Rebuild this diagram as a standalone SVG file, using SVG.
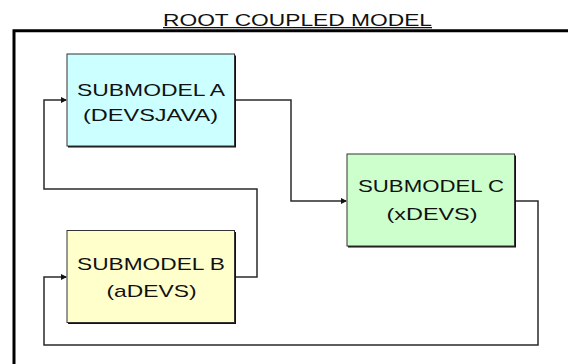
<svg xmlns="http://www.w3.org/2000/svg" width="568" height="364" viewBox="0 0 568 364">
  <style>
    .lbl { font-family: "Liberation Sans", Arial, sans-serif; font-size: 17px; fill: #111; }
    .box { stroke: #333; stroke-width: 1; }
    .shadow { fill: #111; }
    .conn { fill: none; stroke: #2a2a2a; stroke-width: 1.5; }
  </style>
  <defs>
    <marker id="arrow" markerWidth="6" markerHeight="6" refX="5" refY="3" orient="auto" markerUnits="userSpaceOnUse">
      <path d="M0,0 L6,3 L0,6 Z" fill="#111"/>
    </marker>
  </defs>
  <rect width="568" height="364" fill="#fff"/>

  <g id="root">
    <text class="lbl" x="163" y="25.5" textLength="269" lengthAdjust="spacingAndGlyphs">ROOT COUPLED MODEL</text>
    <line x1="163" y1="27.6" x2="432" y2="27.6" stroke="#111" stroke-width="1.2"/>
    <path d="M14,366 L14,30.7 L570,30.7" fill="none" stroke="#000" stroke-width="3"/>
  </g>

  <g id="connectors">
    <path class="conn" d="M235,100 L291,100 L291,201 L346,201" marker-end="url(#arrow)"/>
    <path class="conn" d="M235,277 L257,277 L257,189 L44,189 L44,100 L66,100" marker-end="url(#arrow)"/>
    <path class="conn" d="M515,201 L538,201 L538,345 L44,345 L44,277 L66,277" marker-end="url(#arrow)"/>
  </g>

  <g id="submodel-a">
    <rect class="shadow" x="68" y="55.5" width="168" height="92"/>
    <rect class="box" x="67" y="54" width="167.5" height="92" fill="#ccffff"/>
    <text class="lbl" x="151" y="96" text-anchor="middle" textLength="148" lengthAdjust="spacingAndGlyphs">SUBMODEL A</text>
    <text class="lbl" x="150.5" y="121" text-anchor="middle" textLength="135" lengthAdjust="spacingAndGlyphs">(DEVSJAVA)</text>
  </g>

  <g id="submodel-b">
    <rect class="shadow" x="68" y="232" width="168" height="92"/>
    <rect class="box" x="67" y="230.5" width="167.5" height="92" fill="#ffffcc"/>
    <text class="lbl" x="151" y="270" text-anchor="middle" textLength="148" lengthAdjust="spacingAndGlyphs">SUBMODEL B</text>
    <text class="lbl" x="151.5" y="297" text-anchor="middle" textLength="90" lengthAdjust="spacingAndGlyphs">(aDEVS)</text>
  </g>

  <g id="submodel-c">
    <rect class="shadow" x="348" y="155.5" width="168" height="92"/>
    <rect class="box" x="347" y="154" width="167.5" height="92" fill="#ccffcc"/>
    <text class="lbl" x="431" y="192" text-anchor="middle" textLength="146" lengthAdjust="spacingAndGlyphs">SUBMODEL C</text>
    <text class="lbl" x="432" y="220" text-anchor="middle" textLength="91" lengthAdjust="spacingAndGlyphs">(xDEVS)</text>
  </g>
</svg>
